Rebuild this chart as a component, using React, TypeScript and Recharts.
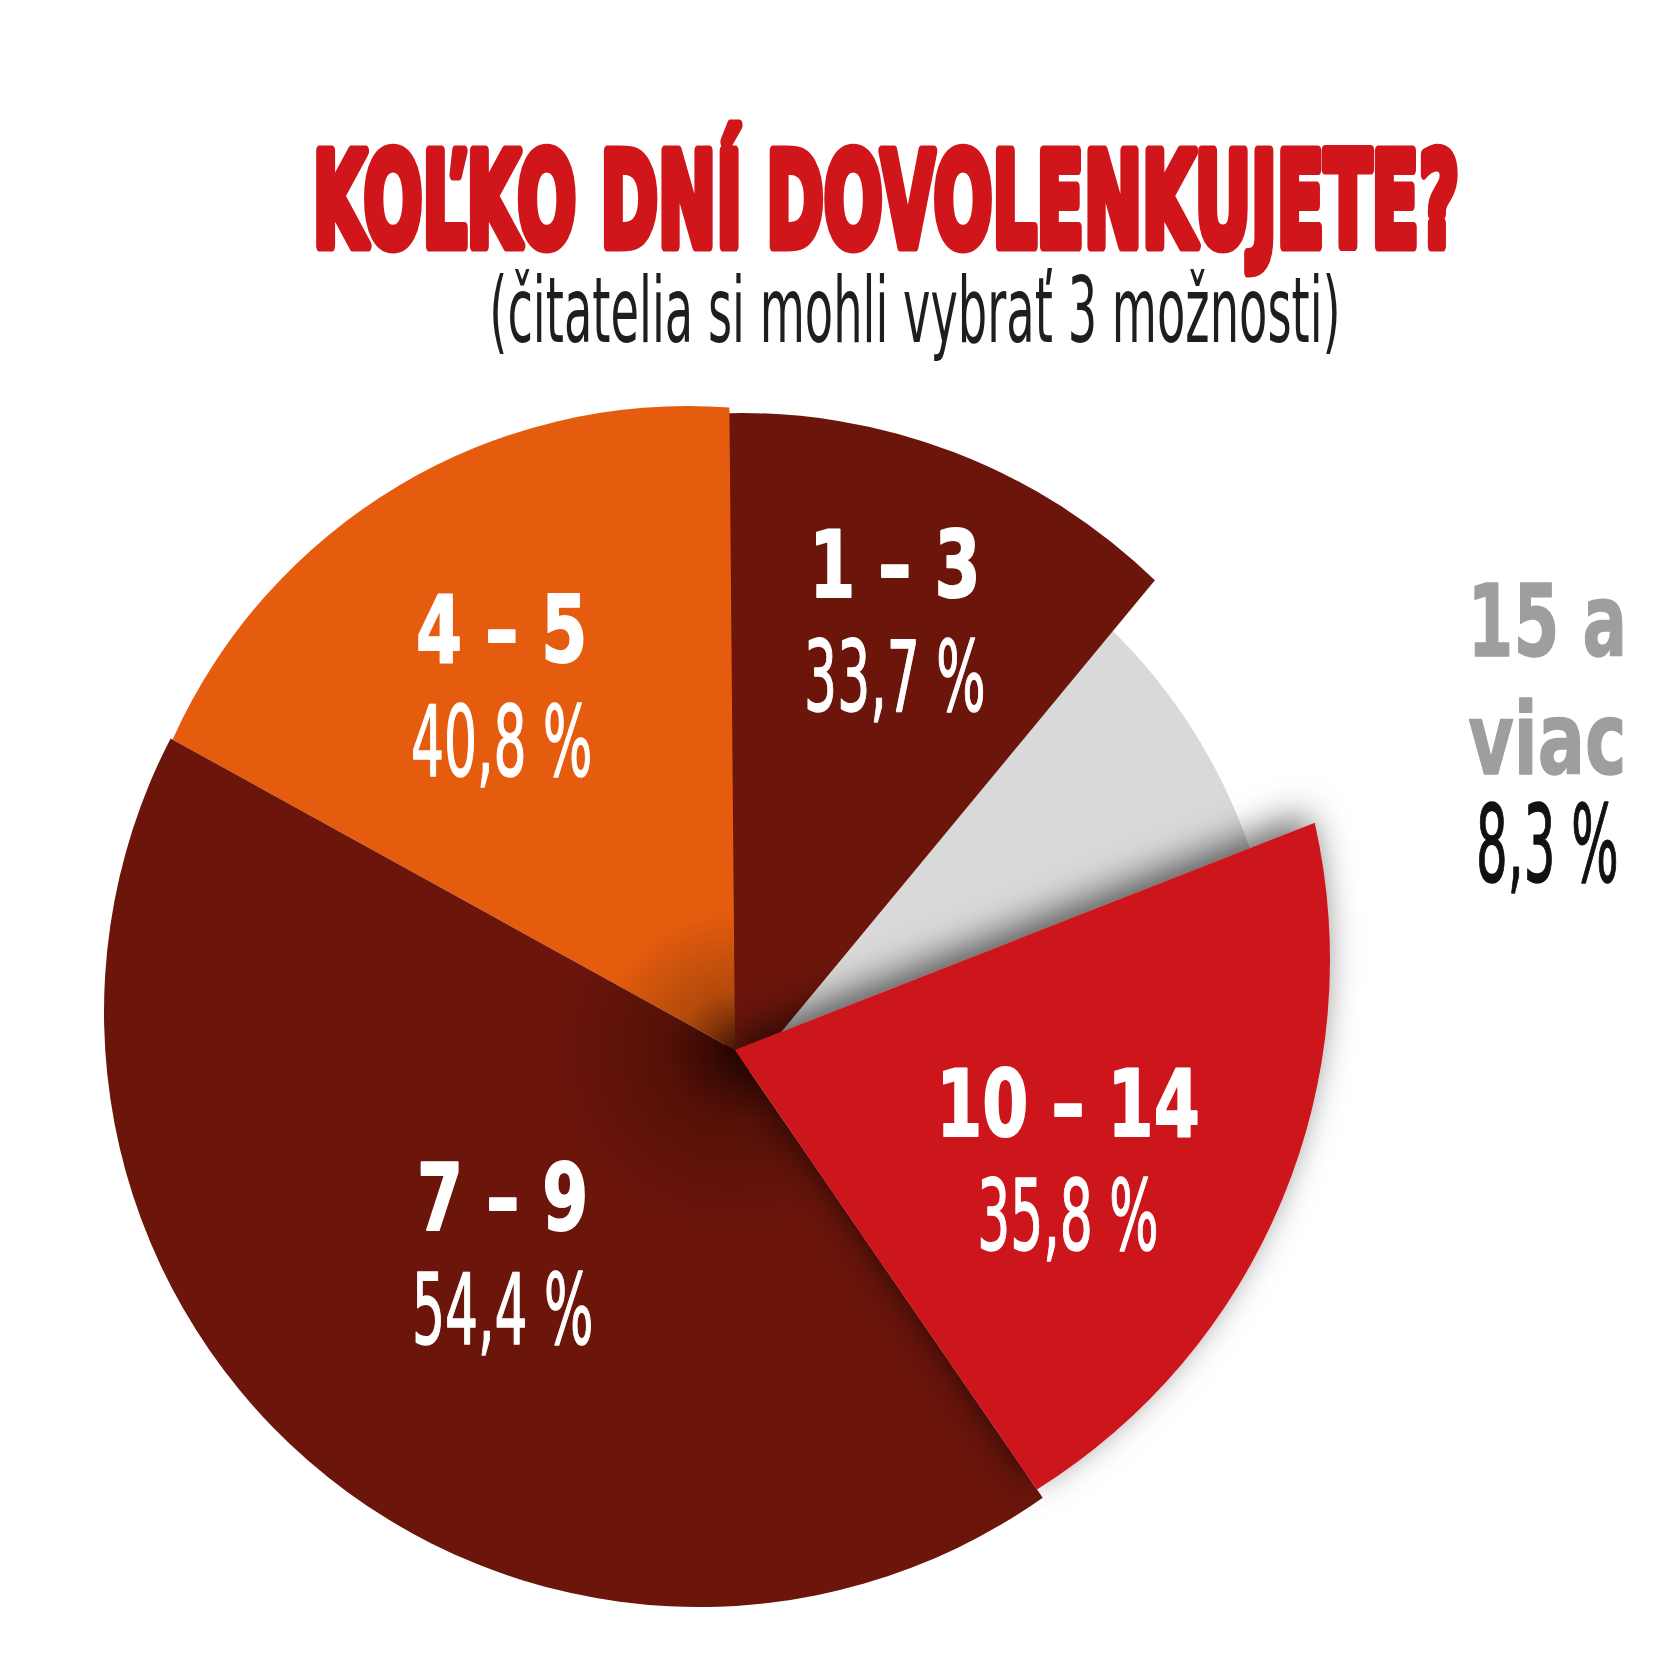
import React from 'react';
import { Cell, Pie, PieChart } from 'recharts';

const TITLE = 'KOĽKO DNÍ DOVOLENKUJETE?';
const SUBTITLE = '(čitatelia si mohli vybrať 3 možnosti)';

const RANGES = ['15 a viac', '1 – 3', '4 – 5', '7 – 9', '10 – 14'];
const SHARES = [8.3, 33.7, 40.8, 54.4, 35.8];
// width of each slice in degrees, as drawn in the original graphic
// (the slices there are not proportional to the shares)
const SWEEPS = [29, 40.1, 60.6, 153.4, 76.9];

const COLORS = ['#d9d9d9', '#6b150b', '#e65c0e', '#6b150b', '#cc171c'];

// apex of each slice, offset from the pie centre
const APEX_DX = [0, -10, 0, 0, 0];
const APEX_DY = [0, 50, 0, 0, 0];
// every slice has its own rim: circle centre offset from the pie centre + radius
const RIM_DX = [-15, 7, -47, -36, -30];
const RIM_DY = [-20, -44, -79, -38, -90];
const RIM_R = [560, 593, 565, 595, 625];

// label placement: distance from the pie centre and a turn off the mid angle
const LABEL_R = [903, 480, 453, 294, 344];
const LABEL_TURN = [-10, 0.1, 0.2, -10, 2.5];

const rows = RANGES.map((range, i) => ({ range, share: SHARES[i], sweep: SWEEPS[i] }));

const RAD = Math.PI / 180;
const FONT = '"DejaVu Sans", "Liberation Sans", sans-serif';

const sliceIndex = (p: any) => {
  const i = RANGES.indexOf(p?.payload?.range ?? p?.range);
  return i >= 0 ? i : p?.index ?? 0;
};

// where a ray from the apex at `deg` meets the slice's rim circle
function rimPoint(ax: number, ay: number, ox: number, oy: number, r: number, deg: number) {
  const ux = Math.cos(deg * RAD);
  const uy = -Math.sin(deg * RAD);
  const dx = ax - ox;
  const dy = ay - oy;
  const b = dx * ux + dy * uy;
  const c = dx * dx + dy * dy - r * r;
  const t = -b + Math.sqrt(b * b - c);
  return [ax + t * ux, ay + t * uy];
}

function Slice(props: any) {
  const { cx, cy, startAngle, endAngle } = props;
  const i = sliceIndex(props);
  const ax = cx + APEX_DX[i];
  const ay = cy + APEX_DY[i];
  const ox = cx + RIM_DX[i];
  const oy = cy + RIM_DY[i];
  const r = RIM_R[i];
  const [x1, y1] = rimPoint(ax, ay, ox, oy, r, startAngle);
  const [x2, y2] = rimPoint(ax, ay, ox, oy, r, endAngle);
  const a1 = Math.atan2(oy - y1, x1 - ox) / RAD;
  const a2 = Math.atan2(oy - y2, x2 - ox) / RAD;
  const span = (((a2 - a1) % 360) + 360) % 360;
  const d = `M${ax},${ay}L${x1},${y1}A${r},${r} 0 ${span > 180 ? 1 : 0} 0 ${x2},${y2}Z`;

  if (i === 2) {
    // orange slice gets darker towards the centre
    return (
      <g>
        <defs>
          <radialGradient id="hub-orange" gradientUnits="userSpaceOnUse" cx={cx} cy={cy} r={640}>
            <stop offset="0" stopColor="#5a2006" />
            <stop offset="0.09" stopColor="#b24a0b" />
            <stop offset="0.22" stopColor={COLORS[2]} />
            <stop offset="1" stopColor={COLORS[2]} />
          </radialGradient>
        </defs>
        <path d={d} fill="url(#hub-orange)" />
      </g>
    );
  }
  if (i === 3) {
    return (
      <g>
        <defs>
          <radialGradient id="hub-dark" gradientUnits="userSpaceOnUse" cx={cx} cy={cy} r={600}>
            <stop offset="0" stopColor="#2e0602" />
            <stop offset="0.12" stopColor="#561107" />
            <stop offset="0.3" stopColor={COLORS[3]} />
            <stop offset="1" stopColor={COLORS[3]} />
          </radialGradient>
        </defs>
        <path d={d} fill="url(#hub-dark)" />
      </g>
    );
  }
  return <path d={d} fill={COLORS[i]} filter={i === 4 ? 'url(#slice-shadow)' : undefined} />;
}

// text squeezed horizontally, to imitate the condensed face of the original
function Line({ x, y, sx, size, weight, fill, stroke, anchor = 'middle', children }: any) {
  return (
    <text
      transform={`translate(${x} ${y}) scale(${sx} 1)`}
      textAnchor={anchor}
      fontFamily={FONT}
      fontSize={size}
      fontWeight={weight}
      fill={fill}
      stroke={fill}
      strokeWidth={stroke}
      strokeLinejoin="round"
    >
      {children}
    </text>
  );
}

function SliceLabel(props: any) {
  const { cx, cy, midAngle } = props;
  const i = sliceIndex(props);
  const a = (midAngle + LABEL_TURN[i]) * RAD;
  const x = cx + LABEL_R[i] * Math.cos(a);
  const y = cy - LABEL_R[i] * Math.sin(a);
  const share = `${SHARES[i].toFixed(1).replace('.', ',')} %`;

  if (i === 0) {
    // the thin slice is labelled outside the pie
    const cut = RANGES[0].lastIndexOf(' ');
    return (
      <g>
        <Line x={x} y={y} sx={0.66} size={100} weight={700} fill="#9e9e9e" stroke={1.5}>
          {RANGES[0].slice(0, cut)}
        </Line>
        <Line x={x} y={y + 118} sx={0.7} size={100} weight={700} fill="#9e9e9e" stroke={1.5}>
          {RANGES[0].slice(cut + 1)}
        </Line>
        <Line x={x} y={y + 225} sx={0.47} size={106} weight={400} fill="#111111" stroke={1.5}>
          {share}
        </Line>
      </g>
    );
  }
  return (
    <g>
      <Line x={x} y={y} sx={0.72} size={92} weight={700} fill="#ffffff" stroke={2}>
        {RANGES[i]}
      </Line>
      <Line x={x} y={y + 114} sx={0.53} size={98} weight={400} fill="#ffffff" stroke={1.5}>
        {share}
      </Line>
    </g>
  );
}

export default function App() {
  return (
    <div style={{ position: 'absolute', left: 0, top: 0, width: 1680, height: 1680, background: '#ffffff' }}>
      <div style={{ position: 'absolute', left: 0, top: 0 }}>
        <PieChart width={1680} height={1680} margin={{ top: 0, right: 0, bottom: 0, left: 0 }}>
          <Pie
            data={rows}
            dataKey="sweep"
            nameKey="range"
            cx={735}
            cy={1050}
            startAngle={21.4}
            endAngle={381.4}
            outerRadius={600}
            stroke="none"
            shape={Slice}
            activeShape={Slice}
            inactiveShape={Slice}
            label={SliceLabel}
            labelLine={false}
            isAnimationActive={false}
          >
            {rows.map((r, i) => (
              <Cell key={r.range} fill={COLORS[i]} />
            ))}
          </Pie>
        </PieChart>
      </div>
      <svg
        width={1680}
        height={420}
        style={{ position: 'absolute', left: 0, top: 0, pointerEvents: 'none' }}
      >
        <defs>
          <filter id="slice-shadow" x="-30%" y="-30%" width="160%" height="160%">
            <feDropShadow dx="-8" dy="-9" stdDeviation="18" floodColor="#000000" floodOpacity="0.6" />
          </filter>
        </defs>
        <Line x={886} y={246} sx={0.534} size={130} weight={700} fill="#d0151b" stroke={11}>
          {TITLE}
        </Line>
        <Line x={915} y={342} sx={0.515} size={90} weight={400} fill="#1e1e1e" stroke={0}>
          {SUBTITLE}
        </Line>
      </svg>
    </div>
  );
}
